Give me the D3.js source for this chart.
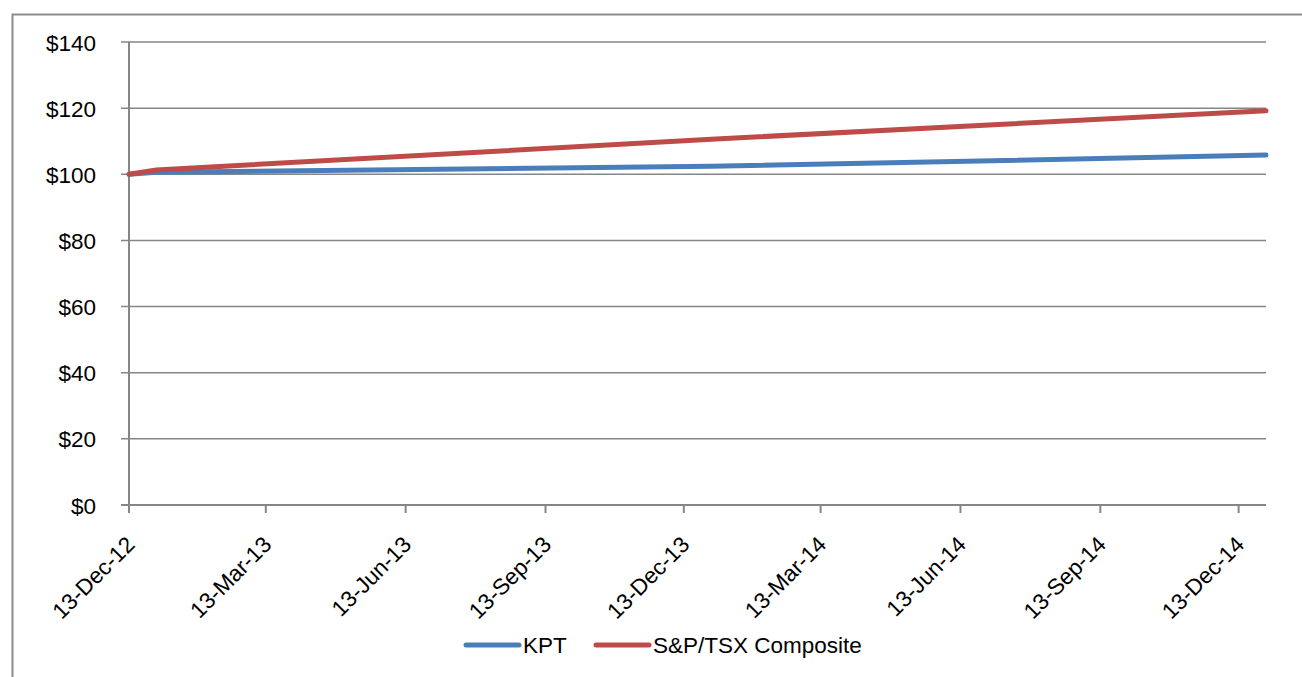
<!doctype html>
<html>
<head>
<meta charset="utf-8">
<title>KPT vs S&amp;P/TSX</title>
<style>
  html, body { margin: 0; padding: 0; background: #fff; }
  svg { display: block; }
  .lbl { font-family: "Liberation Sans", Arial, sans-serif; font-size: 22.5px; fill: #000; }
</style>
<script src="https://cdnjs.cloudflare.com/ajax/libs/d3/7.8.5/d3.min.js"></script>
</head>
<body>
<script>
// data
var dates = ["2012-12-13", "2012-12-31", "2013-12-31", "2014-12-31"];
var kpt = [100, 100.6, 102.4, 105.8];
var tsx = [100, 101.3, 110.6, 119.2];
var seriesNames = ["KPT", "S&P/TSX Composite"];
var seriesColors = ["#4a7ebb", "#be4b48"];
var tickDates = ["2012-12-13", "2013-03-13", "2013-06-13", "2013-09-13", "2013-12-13",
                 "2014-03-13", "2014-06-13", "2014-09-13", "2014-12-13"];
var yTicks = [0, 20, 40, 60, 80, 100, 120, 140];

var width = 1302, height = 677;
var parse = d3.timeParse("%Y-%m-%d");
var fmt = d3.timeFormat("%-d-%b-%y");

var svg = d3.select("body").append("svg")
    .attr("width", width)
    .attr("height", height);

// outer chart border (only top / left visible)
svg.append("path")
    .attr("d", "M12.5," + height + "V14.5H" + width)
    .attr("fill", "none")
    .attr("stroke", "#8c8c8c")
    .attr("stroke-width", 2);

var x = d3.scaleTime()
    .domain([parse(dates[0]), parse(dates[dates.length - 1])])
    .range([129, 1266]);
var y = d3.scaleLinear().domain([0, 140]).range([505, 42]);

// gridlines + y ticks
svg.append("g").selectAll("line").data(yTicks).enter().append("line")
    .attr("x1", 121).attr("x2", 1266)
    .attr("y1", function (d) { return y(d); })
    .attr("y2", function (d) { return y(d); })
    .attr("stroke", "#868686")
    .attr("stroke-width", 1.5);

svg.append("g").selectAll("text").data(yTicks).enter().append("text")
    .attr("class", "lbl")
    .attr("x", 96)
    .attr("y", function (d) { return y(d) + 8.5; })
    .attr("text-anchor", "end")
    .text(function (d) { return "$" + d; });

// y axis line
svg.append("line")
    .attr("x1", 129).attr("x2", 129)
    .attr("y1", 42).attr("y2", 505)
    .attr("stroke", "#868686").attr("stroke-width", 2);

// x axis
svg.append("line")
    .attr("x1", 121).attr("x2", 1266)
    .attr("y1", 505).attr("y2", 505)
    .attr("stroke", "#868686").attr("stroke-width", 2);

var tks = tickDates.map(parse);
svg.append("g").selectAll("line").data(tks).enter().append("line")
    .attr("x1", function (d) { return x(d); })
    .attr("x2", function (d) { return x(d); })
    .attr("y1", 505).attr("y2", 513)
    .attr("stroke", "#868686").attr("stroke-width", 2);

svg.append("g").selectAll("text").data(tks).enter().append("text")
    .attr("class", "lbl")
    .attr("text-anchor", "end")
    .attr("transform", function (d) {
        return "translate(" + (x(d) + 7) + ",546) rotate(-45)";
    })
    .text(function (d) { return fmt(d); });

// series lines
var line = d3.line()
    .x(function (d) { return x(d[0]); })
    .y(function (d) { return y(d[1]); });

[kpt, tsx].forEach(function (vals, i) {
    var pts = dates.map(function (dt, j) { return [parse(dt), vals[j]]; });
    svg.append("path")
        .datum(pts)
        .attr("d", line)
        .attr("fill", "none")
        .attr("stroke", seriesColors[i])
        .attr("stroke-width", 5)
        .attr("stroke-linecap", "round")
        .attr("stroke-linejoin", "round");
});

// legend
var legX = [466, 596];
seriesNames.forEach(function (n, i) {
    svg.append("line")
        .attr("x1", legX[i]).attr("x2", legX[i] + 53)
        .attr("y1", 645).attr("y2", 645)
        .attr("stroke", seriesColors[i])
        .attr("stroke-width", 5)
        .attr("stroke-linecap", "round");
    svg.append("text")
        .attr("class", "lbl")
        .attr("x", legX[i] + 57)
        .attr("y", 653)
        .text(n);
});
</script>
</body>
</html>
